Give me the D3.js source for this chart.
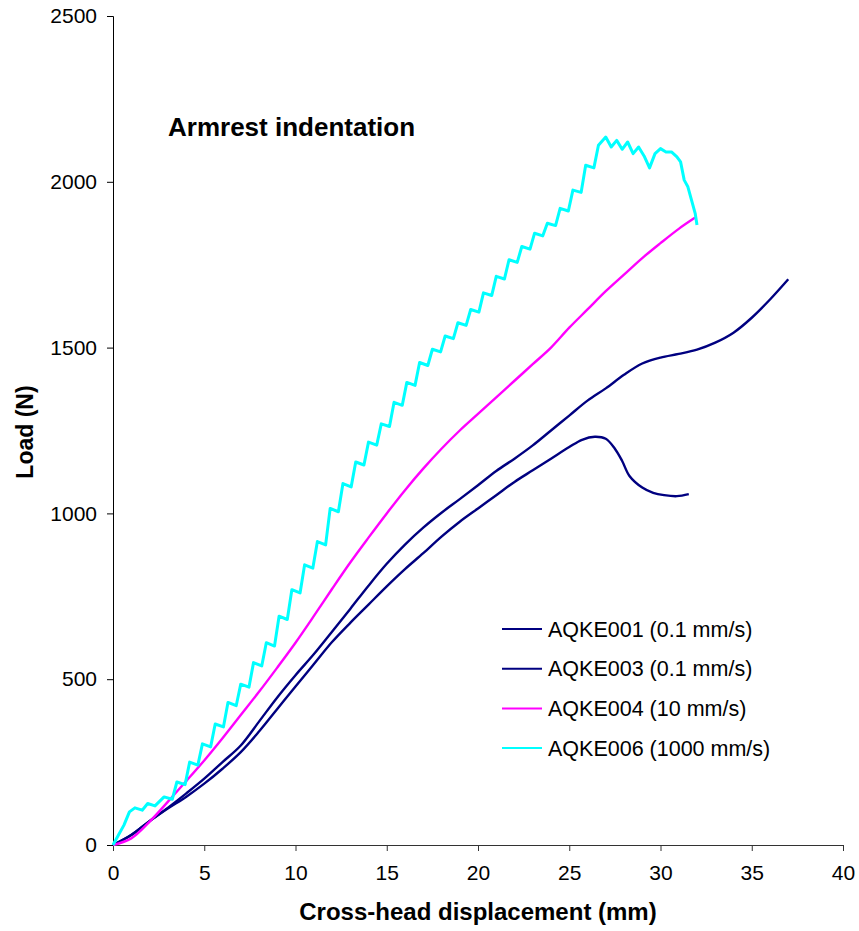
<!DOCTYPE html>
<html>
<head>
<meta charset="utf-8">
<script src="https://cdn.jsdelivr.net/npm/d3@7"></script>
<style>
  body { margin: 0; background: #fff; }
  text { font-family: "Liberation Sans", Arial, sans-serif; }
</style>
</head>
<body>
<div id="chart"></div>
<script>
const width = 859, height = 931;
const margin = { top: 16, left: 113, right: 16, bottom: 86 };

const xTicks = [0, 5, 10, 15, 20, 25, 30, 35, 40];
const yTicks = [0, 500, 1000, 1500, 2000, 2500];

// series [displacement mm, load N]
const aqke001 = [[0,0],[1,30],[2,72],[3,110],[4,145],[5,185],[6,230],[7,280],[8,342],[9,410],[10,478],[11,545],[12,612],[13,670],[14,725],[15,780],[16,832],[17,880],[18,930],[19,975],[20,1015],[21,1055],[22,1095],[23,1130],[24,1165],[25,1200],[25.7,1222],[26.4,1231],[27.0,1225],[27.5,1195],[27.9,1158],[28.3,1113],[29.0,1078],[29.6,1062],[30.2,1055],[30.9,1052],[31.55,1058]];
const aqke003 = [[0,0],[1,30],[2,72],[3,112],[4,155],[5,200],[6,250],[7,300],[8,372],[9,445],[10,512],[11,575],[12,643],[13,712],[14,782],[15,848],[16,906],[17,957],[18,1002],[19,1043],[20,1085],[21,1128],[22,1165],[23,1205],[24,1250],[25,1295],[26,1340],[27,1377],[28,1418],[29,1452],[30,1470],[31,1481],[32,1494],[33,1515],[34,1545],[35,1590],[36,1645],[37,1706]];
const aqke004 = [[0,0],[1,20],[2,70],[3,130],[4,192],[5,255],[6,322],[7,392],[8,462],[9,535],[10,610],[11,690],[12,772],[13,852],[14,927],[15,1000],[16,1070],[17,1135],[18,1195],[19,1250],[20,1300],[21,1350],[22,1400],[23,1450],[24,1500],[25,1560],[26,1615],[27,1670],[28,1720],[29,1770],[30,1815],[31,1858],[31.9,1892]];
const aqke006 = [[0,0],[0.3,30],[0.6,60],[0.9,100],[1.2,112],[1.6,105],[1.9,125],[2.3,118],[2.8,145],[3.25,138],[3.5,190],[3.95,182],[4.2,250],[4.65,241],[4.9,305],[5.35,296],[5.6,365],[6.05,356],[6.3,430],[6.75,420],[7.0,485],[7.45,476],[7.7,550],[8.15,540],[8.4,610],[8.85,600],[9.1,690],[9.55,680],[9.8,770],[10.25,760],[10.5,845],[10.95,835],[11.2,915],[11.65,905],[11.9,1015],[12.35,1005],[12.6,1090],[13.05,1080],[13.3,1155],[13.75,1146],[14.0,1215],[14.45,1206],[14.7,1270],[15.15,1262],[15.4,1335],[15.85,1326],[16.1,1395],[16.55,1386],[16.8,1455],[17.25,1446],[17.5,1495],[17.95,1487],[18.2,1535],[18.65,1527],[18.9,1575],[19.35,1567],[19.6,1615],[20.05,1607],[20.3,1665],[20.75,1657],[21.0,1715],[21.45,1707],[21.7,1765],[22.15,1757],[22.4,1805],[22.85,1797],[23.1,1845],[23.55,1837],[23.8,1875],[24.25,1868],[24.5,1920],[24.95,1912],[25.2,1975],[25.65,1968],[25.9,2050],[26.35,2042],[26.6,2110],[27.0,2135],[27.3,2105],[27.6,2125],[27.9,2098],[28.2,2120],[28.5,2085],[28.8,2105],[29.1,2078],[29.4,2042],[29.7,2085],[30.0,2100],[30.3,2090],[30.6,2090],[30.9,2075],[31.1,2060],[31.3,2005],[31.5,1985],[31.7,1945],[31.9,1905],[32.0,1870]];

const seriesNames = ["AQKE001 (0.1 mm/s)", "AQKE003 (0.1 mm/s)", "AQKE004 (10 mm/s)", "AQKE006 (1000 mm/s)"];
const seriesColors = ["#000080", "#000080", "#ff00ff", "#00ffff"];
const seriesData = [aqke001, aqke003, aqke004, aqke006];

const xScale = d3.scaleLinear().domain([0, 40]).range([margin.left, 843]);
const yScale = d3.scaleLinear().domain([0, 2500]).range([845, margin.top]);

const svg = d3.select("#chart").append("svg").attr("width", width).attr("height", height);

// axes
svg.append("g")
    .attr("transform", `translate(0,${yScale(0)})`)
    .call(d3.axisBottom(xScale).tickValues(xTicks).tickFormat(d3.format("d")).tickSize(6).tickPadding(14))
    .call(g => g.selectAll("text").attr("font-size", 21).attr("fill", "#000").style("font-family", "'Liberation Sans', Arial"))
    .call(g => g.selectAll("line,path").attr("stroke", "#333"));

svg.append("g")
    .attr("transform", `translate(${margin.left},0)`)
    .call(d3.axisLeft(yScale).tickValues(yTicks).tickFormat(d3.format("d")).tickSize(6).tickPadding(10))
    .call(g => g.selectAll("text").attr("font-size", 21).attr("fill", "#000").style("font-family", "'Liberation Sans', Arial"))
    .call(g => g.selectAll("line,path").attr("stroke", "#000"));

// lines
const smooth = d3.line().x(d => xScale(d[0])).y(d => yScale(d[1])).curve(d3.curveCatmullRom);
const raw = d3.line().x(d => xScale(d[0])).y(d => yScale(d[1]));

seriesData.forEach((s, i) => {
    svg.append("path")
        .datum(s)
        .attr("fill", "none")
        .attr("stroke", seriesColors[i])
        .attr("stroke-width", i == 3 ? 3 : 2.4)
        .attr("stroke-linejoin", "round")
        .attr("d", i == 3 ? raw : smooth);
});

// legend
const legend = svg.append("g").attr("transform", "translate(502,629)");
seriesNames.forEach((name, i) => {
    const row = legend.append("g").attr("transform", `translate(0,${i * 39.7})`);
    row.append("line").attr("x1", 0).attr("x2", 40).attr("stroke", seriesColors[i]).attr("stroke-width", 2);
    row.append("text").attr("x", 46).attr("y", 7.5).attr("font-size", 21.5).text(name);
});

// titles
svg.append("text")
    .attr("x", 168).attr("y", 136)
    .attr("font-size", 26).attr("font-weight", "bold")
    .text("Armrest indentation");

svg.append("text")
    .attr("x", 478).attr("y", 920)
    .attr("text-anchor", "middle")
    .attr("font-size", 24).attr("font-weight", "bold")
    .text("Cross-head displacement (mm)");

svg.append("text")
    .attr("transform", "translate(33,432) rotate(-90)")
    .attr("text-anchor", "middle")
    .attr("font-size", 23).attr("font-weight", "bold")
    .text("Load (N)");
</script>
</body>
</html>
